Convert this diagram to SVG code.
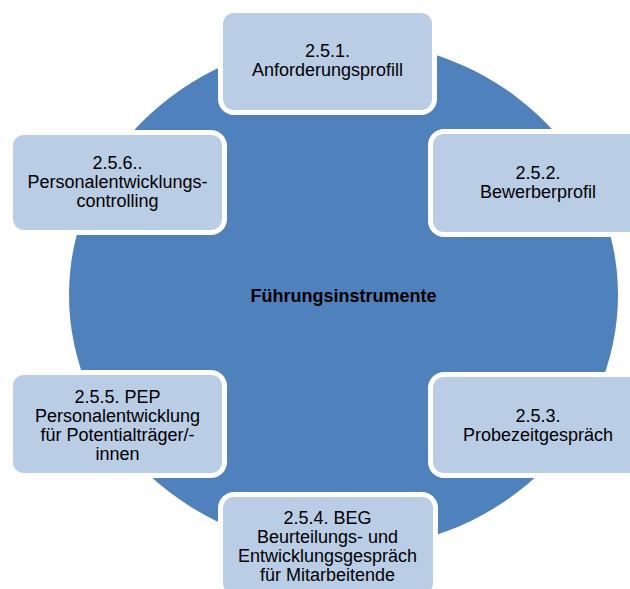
<svg xmlns="http://www.w3.org/2000/svg" width="630" height="589" viewBox="0 0 630 589">
  <style>
    .ring { fill: #4F81BD; }
    .box { fill: #B9CDE5; stroke: #FFFFFF; stroke-width: 10; paint-order: stroke; }
    .lbl { font-family: "Liberation Sans", Arial, sans-serif; font-size: 18px; fill: #000000; text-anchor: middle; }
    .hub { font-family: "Liberation Sans", Arial, sans-serif; font-size: 18px; font-weight: bold; fill: #000000; text-anchor: middle; }
  </style>

  <!-- cycle ring behind the steps -->
  <g id="connectors">
    <ellipse class="ring" cx="343.5" cy="295" rx="274.5" ry="255"/>
  </g>

  <g id="hub">
    <text class="hub" x="343.5" y="302">Führungsinstrumente</text>
  </g>

  <g id="step1">
    <rect class="box" x="223" y="13" width="209" height="97" rx="11"/>
    <text class="lbl" x="327.5" y="57">2.5.1.</text>
    <text class="lbl" x="327.5" y="76">Anforderungsprofill</text>
  </g>

  <g id="step2">
    <rect class="box" x="433" y="134" width="209" height="98" rx="11"/>
    <text class="lbl" x="538" y="179">2.5.2.</text>
    <text class="lbl" x="538" y="198">Bewerberprofil</text>
  </g>

  <g id="step3">
    <rect class="box" x="433" y="377" width="209" height="96" rx="11"/>
    <text class="lbl" x="538" y="422">2.5.3.</text>
    <text class="lbl" x="538" y="441">Probezeitgespräch</text>
  </g>

  <g id="step4">
    <rect class="box" x="223" y="497" width="210" height="97" rx="11"/>
    <text class="lbl" x="327.5" y="524">2.5.4. BEG</text>
    <text class="lbl" x="327.5" y="543">Beurteilungs-  und</text>
    <text class="lbl" x="327.5" y="562">Entwicklungsgespräch</text>
    <text class="lbl" x="327.5" y="581">für Mitarbeitende</text>
  </g>

  <g id="step5">
    <rect class="box" x="13" y="375" width="209" height="98" rx="11"/>
    <text class="lbl" x="117.5" y="403">2.5.5. PEP</text>
    <text class="lbl" x="117.5" y="422">Personalentwicklung</text>
    <text class="lbl" x="117.5" y="441">für Potentialträger/-</text>
    <text class="lbl" x="117.5" y="460">innen</text>
  </g>

  <g id="step6">
    <rect class="box" x="13" y="135" width="209" height="95" rx="11"/>
    <text class="lbl" x="117.5" y="169">2.5.6..</text>
    <text class="lbl" x="117.5" y="188">Personalentwicklungs-</text>
    <text class="lbl" x="117.5" y="207">controlling</text>
  </g>
</svg>
